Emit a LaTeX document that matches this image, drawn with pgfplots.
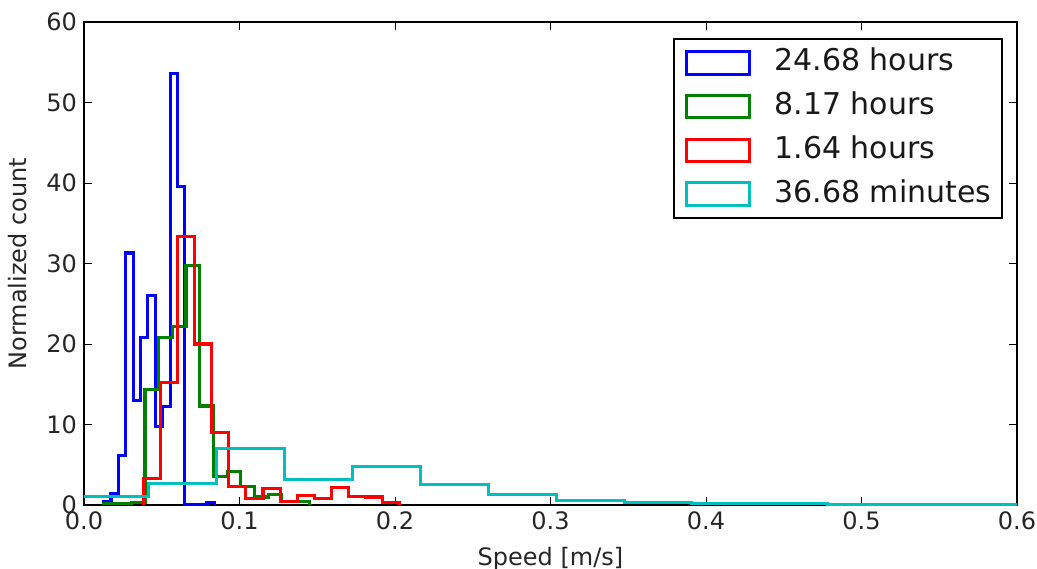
\documentclass[border=0pt]{standalone}
\usepackage{fontspec}
\setmainfont{DejaVu Sans}
\usepackage{pgfplots}
\pgfplotsset{compat=1.18}
\definecolor{mgreen}{rgb}{0,0.5,0}
\definecolor{mcyan}{rgb}{0,0.75,0.75}
\begin{document}
\begin{tikzpicture}
\useasboundingbox (-42pt,-31.5pt) rectangle (476.5pt,252.5pt);
\begin{axis}[
  at={(0pt,0pt)}, anchor=south west,
  scale only axis, width=466.5pt, height=241.5pt,
  xmin=0, xmax=0.6, ymin=0, ymax=60,
  xtick={0,0.1,0.2,0.3,0.4,0.5,0.6},
  xticklabels={0.0,0.1,0.2,0.3,0.4,0.5,0.6},
  ytick={0,10,20,30,40,50,60},
  /pgf/number format/assume math mode=true,
  tick align=inside, xtick pos=both, ytick pos=both,
  major tick length=4.2pt,
  every tick/.style={black, line width=0.5pt},
  axis line style={black, line width=0.8pt},
  tick label style={font=\fontsize{12}{14}\selectfont, text=black!85},
  label style={font=\fontsize{12}{14}\selectfont, text=black!85},
  xlabel={Speed [m/s]},
  ylabel={Normalized count},
  xlabel style={at={(axis description cs:0.5,0)}, anchor=north, yshift=-17.5pt},
  ylabel style={at={(axis description cs:-0.0535,0.5)}, anchor=south},
  legend image code/.code={\draw[#1,fill=none,line width=1.55pt] (0pt,-5.65pt) rectangle (31.7pt,5.65pt);},
  legend cell align=left,
  legend style={at={(rel axis cs:0.9847,0.9663)}, anchor=north east,
    draw=black, line width=0.7pt, fill=white,
    font=\fontsize{15}{18}\selectfont, text=black!90,
    inner xsep=5.3pt, inner ysep=4.4pt,
    column sep=11.7pt, row sep=6.9pt,
    nodes={inner sep=0pt, text height=11.5pt, text depth=3.5pt}},
]
\addplot[blue, line width=1.55pt, line join=miter, const plot] coordinates {
(0.0126,0) (0.0126,0.4) (0.01735,1.45) (0.0221,6.2) (0.02685,31.3) (0.0316,13.0)
(0.03635,20.8) (0.0411,26.0) (0.04585,9.8) (0.0506,12.2) (0.05535,53.6) (0.0601,39.6)
(0.06485,0) (0.0696,0) (0.07435,0) (0.0791,0.3) (0.08385,0.3) (0.08385,0)};
\addplot[mgreen, line width=1.55pt, line join=miter, const plot] coordinates {
(0.0128,0) (0.0128,0.2) (0.0216,0.2) (0.0304,0.3) (0.0392,14.4) (0.048,20.8)
(0.0568,22.2) (0.0656,29.8) (0.0744,12.3) (0.0832,3.5) (0.092,4.2) (0.1008,2.3)
(0.1096,1.0) (0.1184,1.3) (0.1272,0.4) (0.136,0.4) (0.1448,0.4) (0.1448,0)};
\addplot[red, line width=1.55pt, line join=miter, const plot] coordinates {
(0.0381,0) (0.0381,3.3) (0.0491,15.2) (0.0601,33.3) (0.0711,20.0) (0.0821,9.0)
(0.0931,2.3) (0.1041,0.8) (0.1151,2.1) (0.1261,0.4) (0.1371,1.2) (0.1481,0.8)
(0.1591,2.2) (0.1701,1.1) (0.1811,1.0) (0.1921,0.3) (0.2031,0.3) (0.2031,0)};
\addplot[mcyan, line width=1.55pt, line join=miter, const plot] coordinates {
(-0.0019,0) (-0.0019,1.1) (0.04175,2.7) (0.0854,7.0) (0.12905,3.2) (0.1727,4.8)
(0.21635,2.5) (0.26,1.3) (0.30365,0.6) (0.3473,0.3) (0.39095,0.2) (0.4346,0.15)
(0.47825,0.1) (0.5219,0.1) (0.56555,0.08) (0.6092,0.08) (0.6092,0)};
\legend{24.68 hours, 8.17 hours, 1.64 hours, 36.68 minutes}
\end{axis}
\end{tikzpicture}
\end{document}
